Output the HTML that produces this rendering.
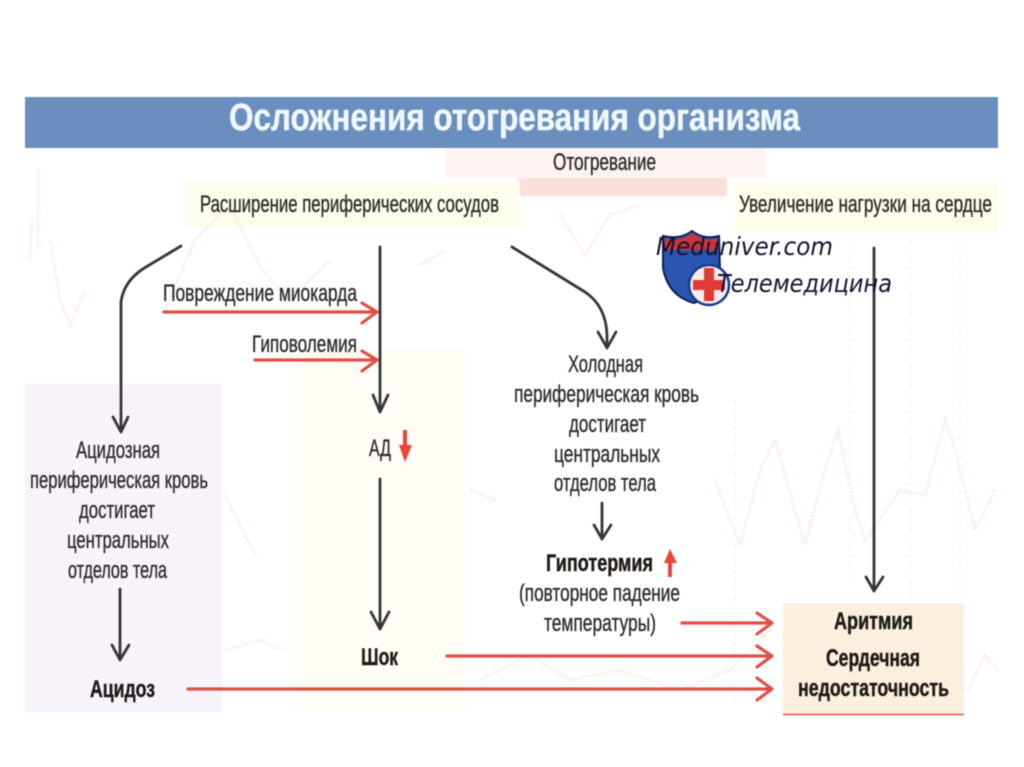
<!DOCTYPE html>
<html lang="ru">
<head>
<meta charset="utf-8">
<title>Осложнения отогревания организма</title>
<style>
html,body{margin:0;padding:0;background:#fff;width:1024px;height:767px;overflow:hidden}
svg{display:block;filter:blur(.55px)}
text{font-family:"Liberation Sans","DejaVu Sans",sans-serif;font-size:24px;fill:#2b2b2b;stroke:#2b2b2b;stroke-width:.35px}
.b{font-weight:700;fill:#1d1a18;stroke:#1d1a18;stroke-width:.4px}
.k{fill:none;stroke:#36363a;stroke-width:2.8;stroke-linecap:round;stroke-linejoin:round}
.r{fill:none;stroke:#df4f47;stroke-width:3.2;stroke-linecap:round;stroke-linejoin:round}
.e{fill:none;stroke:#fbeae8;stroke-width:3;stroke-dasharray:2 1.5}
.d{fill:none;stroke:#f9eeec;stroke-width:2;stroke-dasharray:2 7}
.w{font-family:"DejaVu Sans",sans-serif;font-style:italic;fill:#12122e;stroke:none;font-size:25px}
</style>
</head>
<body>
<svg width="1024" height="767" viewBox="0 0 1024 767" xmlns="http://www.w3.org/2000/svg">
<rect width="1024" height="767" fill="#fff"/>

<!-- tinted panels -->
<rect x="445" y="148" width="320" height="30" fill="#fdf3f0"/>
<rect x="519" y="178" width="208" height="18" fill="#f9dfd9"/>
<rect x="25" y="384" width="197" height="328" fill="#f8f2fb"/>
<rect x="295" y="350" width="170" height="362" fill="#fffdf6"/>
<rect x="185" y="182" width="335" height="46" fill="#fdfdec"/>
<rect x="735" y="183" width="263" height="49" fill="#fefdec"/>
<rect x="783" y="603" width="181" height="111" fill="#fbf0dd"/>
<line x1="783" y1="714.5" x2="964" y2="714.5" stroke="#e2524a" stroke-width="1.6"/>

<!-- faint ECG background -->
<path class="e" d="M50 240 L60 300 L70 325 L85 290 M165 310 L195 240 L230 205 L262 270 L290 300 L330 260 M420 265 L445 250 M560 215 L585 255 L610 215 L640 205"/>
<path class="e" d="M225 495 L245 535 L256 555 M470 490 L495 500"/>
<path class="e" d="M715 480 L740 545 L760 470 L775 440 L795 510 L805 545 L825 470 L838 430 L855 510 L865 540 L880 520 L900 490 L925 495 L945 420 L955 450 L975 530 L995 490"/>
<path class="e" d="M225 650 L260 640 L280 650 M480 680 L530 655 L570 680 L620 670 L680 690 L730 670 L770 630 M968 690 L985 655 L998 670"/>
<path class="e" d="M38 170 L38 250 M30 260 L32 220"/>
<path class="d" d="M850 240 L850 590 M910 240 L910 600 M960 240 L960 600 M735 400 L735 700"/>

<!-- title banner -->
<rect x="25" y="97" width="973" height="51" fill="#6a8fbe"/>
<text x="229" y="130" textLength="571" lengthAdjust="spacingAndGlyphs" class="b" style="font-size:38px;fill:#eef7fa;stroke:#eef7fa;stroke-width:.5px">Осложнения отогревания организма</text>

<!-- top labels -->
<text x="553" y="170" textLength="103" lengthAdjust="spacingAndGlyphs">Отогревание</text>
<text x="200" y="212" textLength="299" lengthAdjust="spacingAndGlyphs">Расширение периферических сосудов</text>
<text x="739" y="212" textLength="253" lengthAdjust="spacingAndGlyphs">Увеличение нагрузки на сердце</text>

<!-- black connectors -->
<path class="k" d="M181 246 L146 267 Q124 280 121 302 L121 432 M113 417 L121 432 L128 417"/>
<path class="k" d="M380 247 L380 412 M373 395 L380 412 L388 395"/>
<path class="k" d="M380 479 L380 629 M371 612 L380 629 L389 612"/>
<path class="k" d="M120 589 L120 660 M112 645 L120 660 L129 645"/>
<path class="k" d="M512 247 L585 292 Q606 306 607 335 L607 348 M598 332 L607 348 L616 332"/>
<path class="k" d="M602 503 L602 539 M594 525 L602 539 L611 525"/>
<path class="k" d="M874 248 L874 591 M866 577 L874 591 L883 577"/>

<!-- red connectors -->
<path class="r" d="M164 312 L376 312 M362 303 L377 312 L362 323"/>
<path class="r" d="M255 360 L376 360 M362 351 L377 360 L362 371"/>
<path class="r" d="M682 623 L771 623 M757 613 L772 623 L757 634"/>
<path class="r" d="M447 656 L771 656 M757 646 L772 656 L757 667"/>
<path class="r" d="M188 689 L771 689 M757 678 L772 689 L757 700"/>

<!-- mini red arrows -->
<path d="M403 430 H407 V445 H412 L405 462 L399 445 H403 Z" fill="#e8443a"/>
<path d="M668 577 H672 V563 H677 L670 549 L664 563 H668 Z" fill="#e8443a"/>

<!-- labels on red arrows -->
<text x="163" y="301" textLength="194" lengthAdjust="spacingAndGlyphs">Повреждение миокарда</text>
<text x="252" y="352" textLength="105" lengthAdjust="spacingAndGlyphs">Гиповолемия</text>

<!-- left column -->
<text x="76" y="458" textLength="84" lengthAdjust="spacingAndGlyphs">Ацидозная</text>
<text x="30" y="488" textLength="178" lengthAdjust="spacingAndGlyphs">периферическая кровь</text>
<text x="79" y="518" textLength="76" lengthAdjust="spacingAndGlyphs">достигает</text>
<text x="67" y="548" textLength="102" lengthAdjust="spacingAndGlyphs">центральных</text>
<text x="68" y="578" textLength="99" lengthAdjust="spacingAndGlyphs">отделов тела</text>
<text x="90" y="697" textLength="65" lengthAdjust="spacingAndGlyphs" class="b">Ацидоз</text>

<!-- centre column -->
<text x="369" y="456" textLength="22" lengthAdjust="spacingAndGlyphs">АД</text>
<text x="361" y="665" textLength="37" lengthAdjust="spacingAndGlyphs" class="b">Шок</text>

<!-- right column -->
<text x="568" y="372" textLength="75" lengthAdjust="spacingAndGlyphs">Холодная</text>
<text x="514" y="402" textLength="185" lengthAdjust="spacingAndGlyphs">периферическая кровь</text>
<text x="569" y="432" textLength="77" lengthAdjust="spacingAndGlyphs">достигает</text>
<text x="554" y="462" textLength="106" lengthAdjust="spacingAndGlyphs">центральных</text>
<text x="554" y="491" textLength="102" lengthAdjust="spacingAndGlyphs">отделов тела</text>
<text x="546" y="571" textLength="107" lengthAdjust="spacingAndGlyphs" class="b">Гипотермия</text>
<text x="519" y="601" textLength="161" lengthAdjust="spacingAndGlyphs">(повторное падение</text>
<text x="544" y="631" textLength="112" lengthAdjust="spacingAndGlyphs">температуры)</text>

<!-- outcome box -->
<text x="834" y="629" textLength="79" lengthAdjust="spacingAndGlyphs" class="b">Аритмия</text>
<text x="826" y="666" textLength="94" lengthAdjust="spacingAndGlyphs" class="b">Сердечная</text>
<text x="798" y="696" textLength="151" lengthAdjust="spacingAndGlyphs" class="b">недостаточность</text>

<!-- watermark logo -->
<path d="M663 236 Q680 240 692 231 Q704 240 719 236 L720 270 Q716 296 694 303 Q668 296 663 268 Z" fill="#2a55b0" stroke="#0f1f58" stroke-width="2"/>
<path d="M665 238 Q680 242 692 233 Q704 242 717 238 L718 250 L665 250 Z" fill="#c7353c"/>
<circle cx="709" cy="285" r="20" fill="#f7ecec" stroke="#173a8c" stroke-width="2.5"/>
<path d="M704 268 H714 V280 H725 V290 H714 V301 H704 V290 H693 V280 H704 Z" fill="#e03a35"/>
<text x="656" y="255" textLength="177" lengthAdjust="spacingAndGlyphs" class="w">Meduniver.com</text>
<text x="717" y="292" textLength="175" lengthAdjust="spacingAndGlyphs" class="w">Телемедицина</text>
</svg>
</body>
</html>
